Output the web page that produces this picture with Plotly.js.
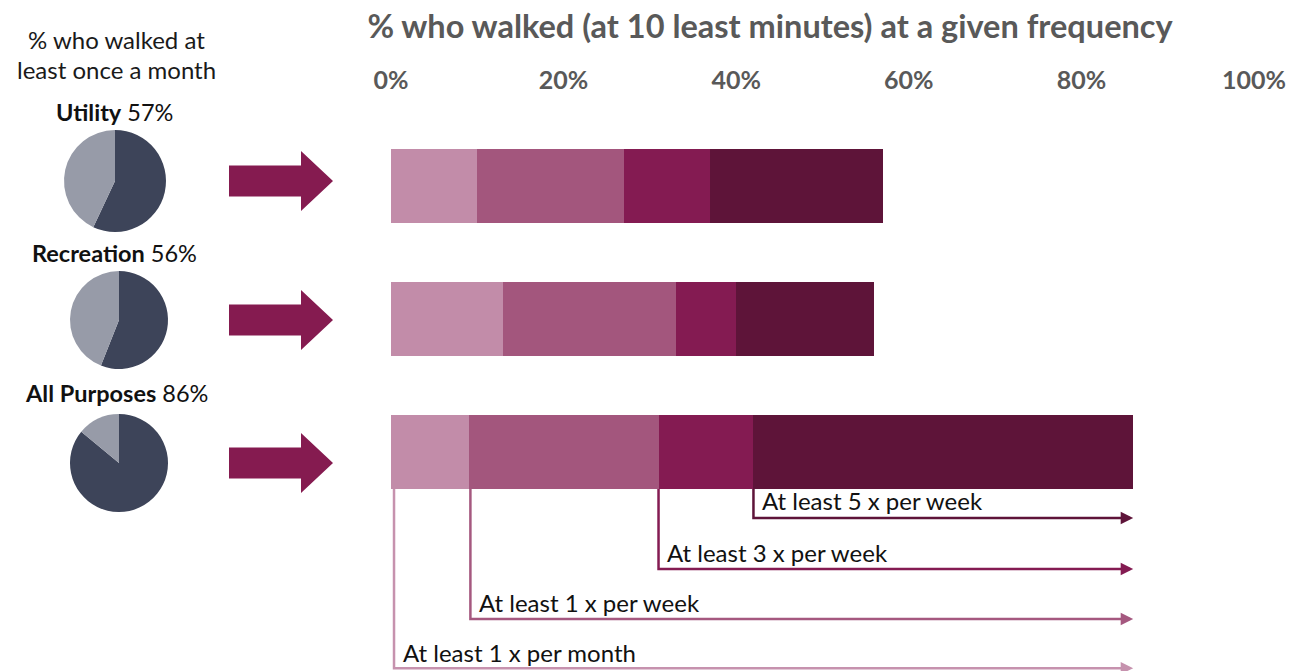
<!DOCTYPE html>
<html>
<head>
<meta charset="utf-8">
<script src="https://cdn.plot.ly/plotly-3.0.1.min.js"></script>
<style>html,body{margin:0;padding:0;background:#fff;}#chart{width:1304px;height:671px;}</style>
</head>
<body>
<div id="chart"></div>
<script>
// ---- data ----
const categories = ['Utility', 'Recreation', 'All Purposes'];
const monthlyPct = [57, 56, 86];            // % who walked at least once a month
const segMonthOnly = [10, 13, 9];           // at least 1x/month (but < 1x/week)
const segWeek = [17, 20, 22];               // at least 1x/week (but < 3x/week)
const seg3x = [10, 7, 11];                  // at least 3x/week (but < 5x/week)
const seg5x = [20, 16, 44];                 // at least 5x/week
const freqLabels = ['At least 1 x per month', 'At least 1 x per week', 'At least 3 x per week', 'At least 5 x per week'];
const tickVals = [0, 20, 40, 60, 80, 100];
const tickText = ['0%', '20%', '40%', '60%', '80%', '100%'];
const sideTitleLines = ['% who walked at', 'least once a month'];

// ---- styles ----
const W = 1304, H = 671, TOP = 100;
const FONT = 'Lato, "Open Sans", sans-serif';
const segColors = ['#c28ca9', '#a3567d', '#841b52', '#5e1439'];
const pieDark = '#3d4459', pieLight = '#979ba8';
const arrowColor = '#851b50';
const px = x => x / W;
const py = y => (H - y) / (H - TOP);

const segs = [segMonthOnly, segWeek, seg3x, seg5x];
const traces = segs.map((s, i) => ({
  type: 'bar', orientation: 'h', y: categories, x: s,
  width: 0.556, marker: {color: segColors[i], line: {width: 0}},
  name: freqLabels[i], hoverinfo: 'x+name', showlegend: false
}));

// pies
const pieBoxes = [
  {x: [64, 166], y: [130, 232]},
  {x: [70, 168], y: [271, 369]},
  {x: [70, 168], y: [414, 512]}
];
categories.forEach((c, i) => {
  const b = pieBoxes[i];
  traces.push({
    type: 'pie', values: [monthlyPct[i], 100 - monthlyPct[i]], labels: ['Walked', 'Did not'],
    sort: false, direction: 'clockwise', rotation: 0, textinfo: 'none', hoverinfo: 'label+percent',
    marker: {colors: [pieDark, pieLight], line: {width: 0}},
    domain: {x: [px(b.x[0]), px(b.x[1])], y: [py(b.y[1]), py(b.y[0])]},
    showlegend: false
  });
});

const shapes = [];
const annotations = [];

// block arrows
[181, 320, 463].forEach(cy => {
  const pts = [[229, cy - 15.5], [301, cy - 15.5], [301, cy - 30], [333, cy], [301, cy + 30], [301, cy + 15.5], [229, cy + 15.5]];
  const path = 'M ' + pts.map(p => px(p[0]) + ',' + py(p[1])).join(' L ') + ' Z';
  shapes.push({type: 'path', xref: 'paper', yref: 'paper', path: path, fillcolor: arrowColor, line: {width: 0}, layer: 'above'});
});

// pie labels
const pieLabelPos = [[114, 112], [114, 253], [116, 393]];
categories.forEach((c, i) => {
  annotations.push({xref: 'paper', yref: 'paper', x: px(pieLabelPos[i][0]), y: py(pieLabelPos[i][1]),
    xanchor: 'center', yanchor: 'middle', showarrow: false,
    text: '<b>' + c + '</b> ' + monthlyPct[i] + '%', font: {family: FONT, size: 23.5, color: '#111'}});
});
sideTitleLines.forEach((t, i) => {
  annotations.push({xref: 'paper', yref: 'paper', x: px(116), y: py(40 + 30 * i), xanchor: 'center', yanchor: 'middle',
    showarrow: false, text: t, font: {family: FONT, size: 24, color: '#1a1a1a'}});
});

// callouts on "All Purposes" bar
const last = categories.length - 1;
const starts = [];
let acc = 0;
segs.forEach(s => { starts.push(acc); acc += s[last]; });
const total = acc;
const barBottom = last + 0.278;
const lineYs = [3.625, 3.256, 2.88, 2.496];
const textYs = [3.511, 3.135, 2.759, 2.368];
const lineColors = ['#c692ae', '#a5587f', '#841b52', '#5e1439'];
freqLabels.forEach((lab, i) => {
  const x0 = starts[i] === 0 ? 0.35 : starts[i] + (i === 1 ? 0.2 : 0);
  shapes.push({type: 'path', xref: 'x', yref: 'y',
    path: `M ${x0},${barBottom} L ${x0},${lineYs[i]} L ${total - 0.5},${lineYs[i]}`,
    line: {color: lineColors[i], width: 2.5}});
  annotations.push({xref: 'x', yref: 'y', x: total, y: lineYs[i], axref: 'x', ayref: 'y', ax: total - 1.5, ay: lineYs[i],
    showarrow: true, arrowhead: 2, arrowsize: 1, arrowwidth: 2.5, arrowcolor: lineColors[i], text: ''});
  annotations.push({xref: 'x', yref: 'y', x: x0 + 0.8, y: textYs[i], xanchor: 'left', yanchor: 'middle',
    showarrow: false, text: lab, font: {family: FONT, size: 24, color: '#111'}});
});

const layout = {
  width: W, height: H,
  margin: {l: 0, r: 0, t: TOP, b: 0},
  paper_bgcolor: '#fff', plot_bgcolor: '#fff',
  barmode: 'stack',
  title: {text: '<b>% who walked (at 10 least minutes) at a given frequency</b>', x: 770 / W, xanchor: 'center', xref: 'container',
    y: 1 - 27 / H, yref: 'container', yanchor: 'middle', font: {family: FONT, size: 32.5, color: '#595959'}},
  xaxis: {domain: [391 / W, 1254 / W], range: [0, 100], side: 'top', tickvals: tickVals, ticktext: tickText,
    tickfont: {family: FONT, size: 25, color: '#595959', weight: 'bold'}, showgrid: false, zeroline: false, showline: false, ticks: '',
    ticklabelstandoff: 5, fixedrange: true},
  yaxis: {type: 'category', categoryarray: categories, range: [3.6466, -0.6466], autorange: false,
    showticklabels: false, showgrid: false, zeroline: false, showline: false, ticks: '', fixedrange: true},
  shapes: shapes, annotations: annotations, showlegend: false
};

Plotly.newPlot('chart', traces, layout, {displayModeBar: false, staticPlot: true});
</script>
</body>
</html>
